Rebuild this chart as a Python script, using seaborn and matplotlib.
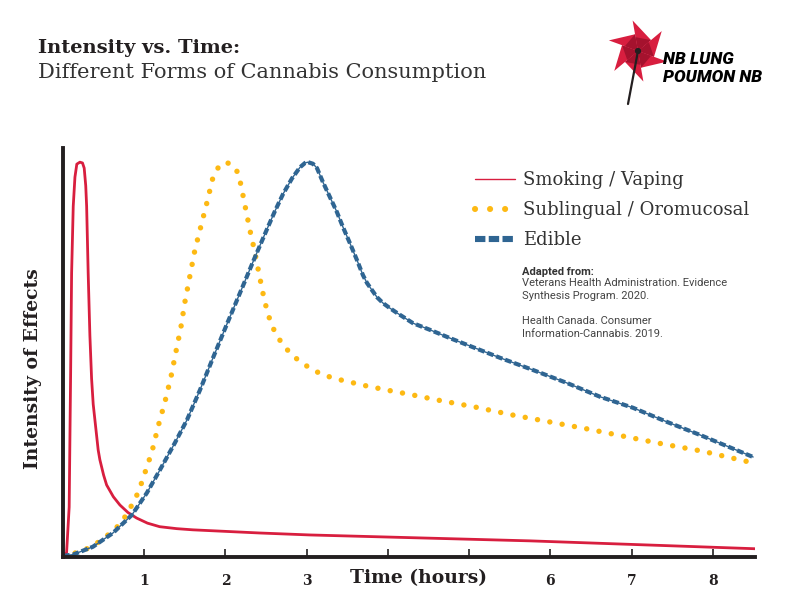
import numpy as np
import pandas as pd
import matplotlib
matplotlib.use("Agg")
import matplotlib.pyplot as plt
from matplotlib.lines import Line2D
from matplotlib.patches import Polygon, Circle
import seaborn as sns

# values (hours, relative intensity)
smoke_t = [0.0, 0.044, 0.076, 0.094, 0.106, 0.126, 0.147, 0.17, 0.208, 0.24, 0.261,
           0.28, 0.291, 0.31, 0.331, 0.352, 0.372, 0.393, 0.433, 0.454, 0.5, 0.537,
           0.62, 0.701, 0.8, 0.906, 1.04, 1.19, 1.4, 1.6, 2.42, 3.04, 5.75, 8.52]
smoke_i = [0.0, 0.008, 0.124, 0.464, 0.718, 0.888, 0.962, 0.995, 1.0, 0.998, 0.985,
           0.94, 0.888, 0.718, 0.56, 0.45, 0.385, 0.345, 0.269, 0.244, 0.205, 0.18,
           0.15, 0.129, 0.11, 0.096, 0.083, 0.074, 0.069, 0.066, 0.058, 0.053, 0.038,
           0.018]

subl_t = [0.0, 0.209, 0.368, 0.491, 0.615, 0.726, 0.799, 0.885, 0.947, 0.996, 1.046,
          1.095, 1.169, 1.255, 1.329, 1.39, 1.452, 1.501, 1.624, 1.699, 1.773, 1.847,
          1.921, 2.006, 2.092, 2.154, 2.191, 2.252, 2.314, 2.351, 2.412, 2.474, 2.511,
          2.56, 2.622, 2.708, 2.819, 2.942, 3.078, 3.213, 3.373, 3.521, 3.681, 3.989,
          4.297, 4.605, 5.073, 5.528, 5.996, 6.464, 6.945, 7.388, 7.868, 8.435, 8.52]
subl_i = [0.0, 0.01, 0.025, 0.043, 0.063, 0.086, 0.112, 0.142, 0.173, 0.203, 0.234,
          0.264, 0.327, 0.391, 0.454, 0.518, 0.581, 0.645, 0.777, 0.838, 0.898, 0.962,
          0.99, 1.0, 0.992, 0.973, 0.942, 0.878, 0.815, 0.782, 0.718, 0.655, 0.624,
          0.591, 0.563, 0.536, 0.51, 0.49, 0.472, 0.459, 0.449, 0.442, 0.434, 0.421,
          0.409, 0.396, 0.378, 0.358, 0.34, 0.322, 0.302, 0.284, 0.266, 0.239, 0.236]

edible_t = [0.0, 0.123, 0.368, 0.615, 0.849, 1.033, 1.193, 1.378, 1.526, 1.686, 1.847,
            2.019, 2.204, 2.364, 2.512, 2.61, 2.709, 2.82, 2.918, 2.98, 3.016, 3.077,
            3.127, 3.201, 3.287, 3.373, 3.447, 3.533, 3.62, 3.693, 3.743, 3.804, 3.866,
            3.94, 4.026, 4.112, 4.309, 4.519, 4.765, 4.974, 5.381, 5.787, 6.206, 6.613,
            7.019, 7.438, 7.844, 8.497]
edible_i = [0.0, 0.003, 0.023, 0.058, 0.104, 0.16, 0.218, 0.287, 0.345, 0.421, 0.503,
            0.589, 0.68, 0.759, 0.83, 0.876, 0.919, 0.959, 0.987, 0.998, 1.0, 0.996,
            0.985, 0.949, 0.911, 0.873, 0.835, 0.794, 0.751, 0.713, 0.693, 0.675, 0.657,
            0.642, 0.629, 0.617, 0.591, 0.574, 0.553, 0.536, 0.503, 0.472, 0.439, 0.404,
            0.376, 0.34, 0.307, 0.251]

series_names = ["Smoking / Vaping", "Sublingual / Oromucosal", "Edible"]
tick_hours = [1, 2, 3, 4, 5, 6, 7, 8]
tick_labels = ["1", "2", "3", "", "", "6", "7", "8"]

RED = "#d81e3f"
YELLOW = "#fdb913"
BLUE = "#2f6592"
DARK = "#231f20"

sns.set_theme(style="white")
plt.rcParams['font.family'] = ['DejaVu Serif']

fig = plt.figure(figsize=(7.92, 6.12), dpi=100)
ax = fig.add_axes([63 / 792, 1 - 557 / 612, 692 / 792, 409 / 612])

smoke = pd.DataFrame({"t": smoke_t, "i": smoke_i})
subl = pd.DataFrame({"t": subl_t, "i": subl_i})
edible = pd.DataFrame({"t": edible_t, "i": edible_i})

sns.lineplot(data=smoke, x="t", y="i", ax=ax, color=RED, lw=2.0, estimator=None)
ln = sns.lineplot(data=subl, x="t", y="i", ax=ax, color=YELLOW, lw=3.9, estimator=None).lines[-1]
ln.set_linestyle((0, (0.01, 2.3)))
ln.set_dash_capstyle("round")
sns.lineplot(data=edible, x="t", y="i", ax=ax, color=BLUE, lw=1.0, estimator=None)
ln = sns.lineplot(data=edible, x="t", y="i", ax=ax, color=BLUE, lw=3.0, estimator=None).lines[-1]
ln.set_linestyle((0, (1.6, 0.7)))

ax.set_xlim(0, 8.52)
ax.set_ylim(-0.003, 1.036)
ax.set_xticks(tick_hours)
ax.set_xticklabels(tick_labels, fontsize=10, fontweight="bold", color=DARK)
ax.set_yticks([])
ax.tick_params(axis="x", direction="in", length=6, width=1.2, color=DARK, pad=12, bottom=True)
ax.set_xlabel("")
ax.set_ylabel("")
for s in ["top", "right"]:
    ax.spines[s].set_visible(False)
for s in ["left", "bottom"]:
    ax.spines[s].set_linewidth(2.8)
    ax.spines[s].set_color(DARK)

fig.text(418 / 792, 1 - 578 / 612, "Time (hours)", ha="center", va="center",
         fontsize=13.5, fontweight="bold", color=DARK)
fig.text(33 / 792, 1 - 369 / 612, "Intensity of Effects", ha="center", va="center",
         rotation=90, fontsize=13.5, fontweight="bold", color=DARK)

# legend
handles = [Line2D([], [], color=RED, lw=1.0),
           Line2D([], [], color=YELLOW, lw=4.4, ls=(0, (0.01, 2.45)), dash_capstyle="round"),
           Line2D([], [], color=BLUE, lw=4.4, ls=(0, (1.7, 0.55)))]
ax.legend(handles, series_names, loc="upper left", bbox_to_anchor=(475 / 792, 1 - 171 / 612),
          bbox_transform=fig.transFigure, frameon=False, fontsize=13, handlelength=2.2,
          handletextpad=0.45, labelspacing=0.66, borderpad=0, borderaxespad=0,
          labelcolor="#333333")

fig.text(522 / 792, 1 - 272 / 612, "Adapted from:", family="Roboto", fontweight="bold",
         fontsize=8, color="#333333", va="center")
fig.text(522 / 792, 1 - 278 / 612,
         "Veterans Health Administration. Evidence\nSynthesis Program. 2020.\n\n"
         "Health Canada. Consumer\nInformation-Cannabis. 2019.",
         family="Roboto", fontsize=8, color="#444444", va="top", linespacing=1.33)

# titles
fig.text(38 / 792, 1 - 48 / 612, "Intensity vs. Time:", fontsize=14, fontweight="bold",
         color=DARK, va="center")
fig.text(38 / 792, 1 - 73 / 612, "Different Forms of Cannabis Consumption", fontsize=15,
         color="#333333", va="center")

# logo
lax = fig.add_axes([605 / 792, 1 - 108 / 612, 70 / 792, 93 / 612])
lax.set_xlim(605, 675)
lax.set_ylim(108, 15)
lax.axis("off")
cx, cy = 638, 51
lax.plot([cx, 628], [cy, 104], color=DARK, lw=1.6, solid_capstyle="round")
for k in range(6):
    a = np.deg2rad(100 - 60 * k)
    b = a - np.deg2rad(60)
    tip = (cx + 31 * np.cos(a), cy - 31 * np.sin(a))
    mid = (cx + 17 * np.cos(b), cy - 17 * np.sin(b))
    inner = (cx + 14 * np.cos(a), cy - 14 * np.sin(a))
    lax.add_patch(Polygon([(cx, cy), tip, mid], closed=True, color=RED, lw=0))
    lax.add_patch(Polygon([(cx, cy), inner, mid], closed=True, color="#a5122e", lw=0))
lax.add_patch(Circle((cx, cy), 2.4, color=DARK))

fig.text(663 / 792, 1 - 59 / 612, "NB LUNG", family="Roboto", fontweight="black",
         style="italic", fontsize=12.5, color="black", va="center")
fig.text(663 / 792, 1 - 77 / 612, "POUMON NB", family="Roboto", fontweight="black",
         style="italic", fontsize=12.5, color="black", va="center")

fig.savefig("out.png", dpi=100)
